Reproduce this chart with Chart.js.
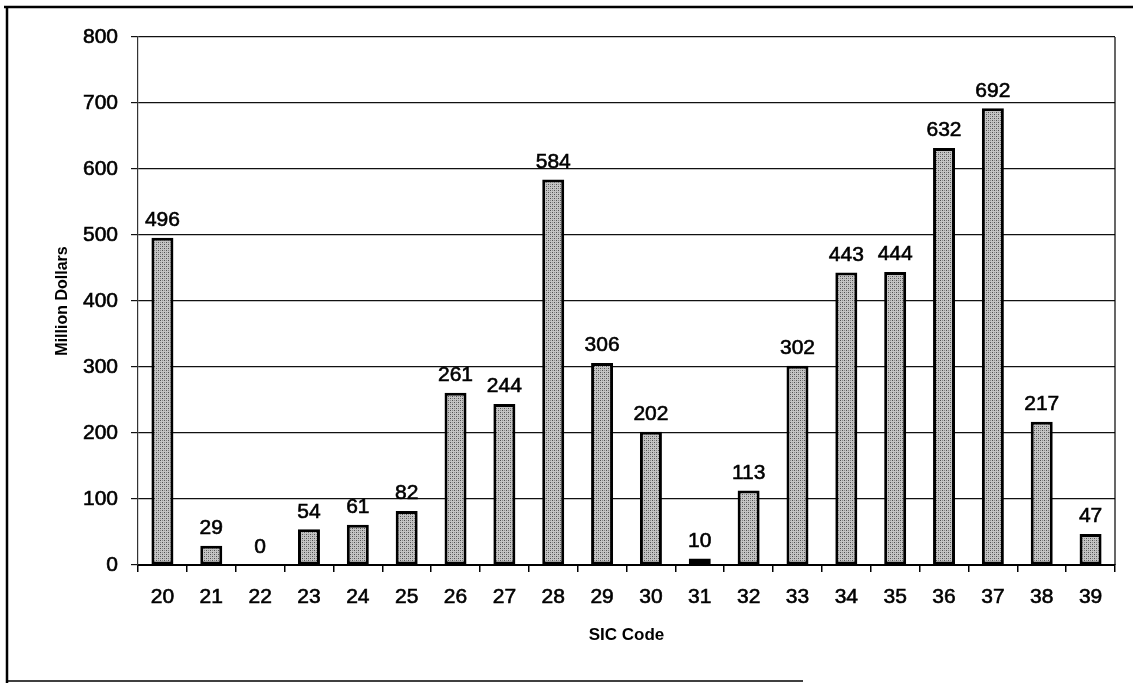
<!DOCTYPE html>
<html>
<head>
<meta charset="utf-8">
<script src="https://cdn.jsdelivr.net/npm/chart.js@4/dist/chart.umd.min.js"></script>
<style>
  html, body { margin: 0; padding: 0; background: #fff; }
  #wrap { position: relative; width: 1133px; height: 683px; }
</style>
</head>
<body>
<div id="wrap"><canvas id="sicChart"></canvas></div>
<script>
const sicCodes = ['20', '21', '22', '23', '24', '25', '26', '27', '28', '29',
                  '30', '31', '32', '33', '34', '35', '36', '37', '38', '39'];
const millionDollars = [496, 29, 0, 54, 61, 82, 261, 244, 584, 306,
                        202, 10, 113, 302, 443, 444, 632, 692, 217, 47];
const yTicks = [0, 100, 200, 300, 400, 500, 600, 700, 800];

const fontFamily = '"Liberation Sans", Arial, sans-serif';

// stippled grey fill like the scanned original
function stipple() {
    const c = document.createElement('canvas');
    c.width = 4; c.height = 4;
    const g = c.getContext('2d');
    g.fillStyle = '#c4c4c4';
    g.fillRect(0, 0, 4, 4);
    g.fillStyle = '#505050';
    g.fillRect(0, 0, 1, 1);
    g.fillRect(2, 2, 1, 1);
    g.fillStyle = '#8a8a8a';
    g.fillRect(2, 0, 1, 1);
    g.fillRect(0, 2, 1, 1);
    return g.createPattern(c, 'repeat');
}

// value labels above each bar
const barLabels = {
    id: 'barLabels',
    afterDatasetsDraw(chart) {
        const ctx = chart.ctx;
        const meta = chart.getDatasetMeta(0);
        ctx.save();
        ctx.font = '21px ' + fontFamily;
        ctx.fillStyle = '#000';
        ctx.strokeStyle = '#000';
        ctx.lineWidth = 0.6;
        ctx.textAlign = 'center';
        ctx.textBaseline = 'bottom';
        meta.data.forEach((bar, i) => {
            const txt = String(millionDollars[i]);
            ctx.fillText(txt, bar.x, bar.y - 7);
            ctx.strokeText(txt, bar.x, bar.y - 7);
        });
        ctx.restore();
    }
};

// outer frame and right edge of plot
const frame = {
    id: 'frame',
    afterDraw(chart) {
        const ctx = chart.ctx;
        const a = chart.chartArea;
        ctx.save();
        ctx.strokeStyle = '#000';
        ctx.lineWidth = 1.2;
        ctx.beginPath();
        ctx.moveTo(a.right, a.top);
        ctx.lineTo(a.right, a.bottom);
        ctx.stroke();
        ctx.lineWidth = 2.5;
        ctx.beginPath();
        ctx.moveTo(4, 7);
        ctx.lineTo(1133, 7);
        ctx.moveTo(7, 6);
        ctx.lineTo(7, 683);
        ctx.stroke();
        ctx.lineWidth = 1.5;
        ctx.beginPath();
        ctx.moveTo(7, 681);
        ctx.lineTo(803, 681);
        ctx.stroke();
        ctx.restore();
    }
};

const ctx = document.getElementById('sicChart').getContext('2d');

new Chart(ctx, {
    type: 'bar',
    data: {
        labels: sicCodes,
        datasets: [{
            label: 'Million Dollars',
            data: millionDollars,
            backgroundColor: stipple(),
            borderColor: '#000',
            borderWidth: 3,
            borderSkipped: false,
            categoryPercentage: 1.0,
            barPercentage: 0.45
        }]
    },
    options: {
        responsive: true,
        maintainAspectRatio: false,
        animation: false,
        layout: {
            padding: { left: 53, top: 37, right: 18, bottom: 37 }
        },
        plugins: {
            legend: { display: false },
            tooltip: { enabled: false }
        },
        scales: {
            x: {
                afterFit: scale => { scale.height = 81; },
                grid: {
                    drawOnChartArea: false,
                    drawTicks: true,
                    tickLength: 7,
                    color: '#000',
                    lineWidth: 1.5
                },
                border: { display: true, color: '#000', width: 2 },
                ticks: {
                    color: '#000',
                    padding: 13,
                    textStrokeColor: '#000',
                    textStrokeWidth: 0.6,
                    font: { family: fontFamily, size: 21 }
                },
                title: {
                    display: true,
                    text: 'SIC Code',
                    color: '#000',
                    padding: 0,
                    font: { family: fontFamily, size: 17, weight: 'bold' }
                }
            },
            y: {
                min: 0,
                max: 800,
                afterFit: scale => { scale.width = 85; },
                afterBuildTicks: scale => { scale.ticks = yTicks.map(v => ({ value: v })); },
                grid: {
                    color: '#111',
                    lineWidth: 1.2,
                    tickLength: 7
                },
                border: { display: true, color: '#333', width: 1.2 },
                ticks: {
                    color: '#000',
                    padding: 13,
                    textStrokeColor: '#000',
                    textStrokeWidth: 0.6,
                    font: { family: fontFamily, size: 21 }
                },
                title: {
                    display: true,
                    text: 'Million Dollars',
                    color: '#000',
                    padding: 0,
                    font: { family: fontFamily, size: 16, weight: 'bold' }
                }
            }
        }
    },
    plugins: [barLabels, frame]
});
</script>
</body>
</html>
